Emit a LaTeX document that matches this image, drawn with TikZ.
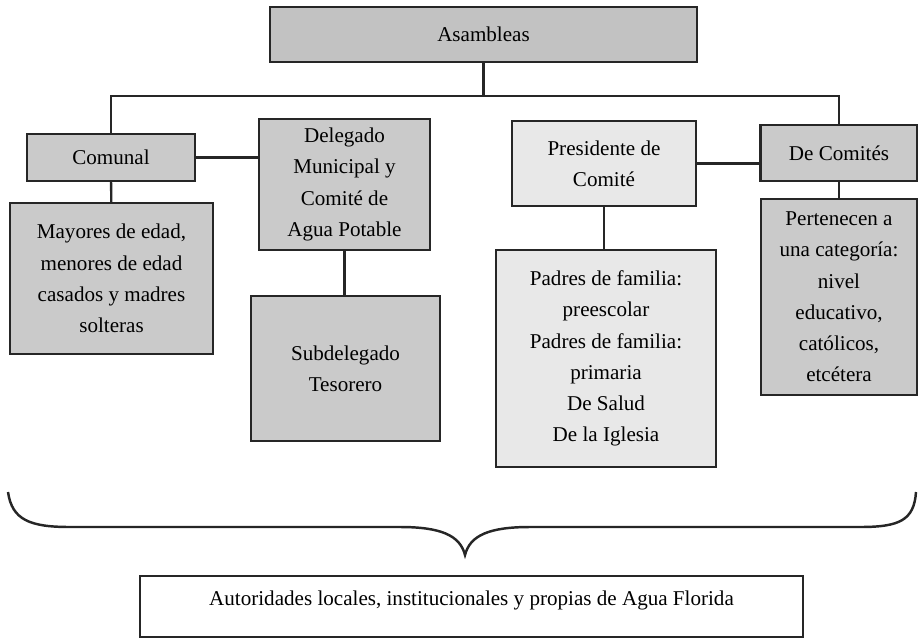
\documentclass[tikz,border=0pt]{standalone}
\usepackage{fontspec}
\setmainfont{Liberation Serif}
\definecolor{grisfuerte}{HTML}{C2C2C2}
\definecolor{gris}{HTML}{CACACA}
\definecolor{grisclaro}{HTML}{E8E8E8}
\tikzstyle{caja} = [rectangle, draw = black!85, line width = 1.3pt, fill = gris,
	align = center, inner sep = 0pt,
	font = \fontsize{12}{17.8}\selectfont]
\tikzstyle{linea} = [draw = black!85, line width = 1.3pt]

\begin{document}
\begin{tikzpicture}[x = 0.02cm, y = -0.02cm]

\useasboundingbox (0,0) rectangle (918,639);

\node (asam) [caja, fill = grisfuerte, minimum width = 8.54cm, minimum height = 1.1cm]
	at (483.5,34.5) {Asambleas};

\node (comunal) [caja, minimum width = 3.36cm, minimum height = 0.94cm]
	at (111,157.5) {Comunal};

\node (mayores) [caja, minimum width = 4.06cm, minimum height = 3.02cm]
	at (111.5,278.5)
	{Mayores de edad,\\ menores de edad\\ casados y madres\\ solteras};

\node (delegado) [caja, minimum width = 3.42cm, minimum height = 2.62cm]
	at (344.5,184.5)
	{Delegado\\ Municipal y\\ Comité de\\ Agua Potable};

\node (subdel) [caja, minimum width = 3.78cm, minimum height = 2.9cm]
	at (345.5,368.5) {Subdelegado\\ Tesorero};

\node (presid) [caja, fill = grisclaro, minimum width = 3.68cm, minimum height = 1.7cm]
	at (604,163.5) {Presidente de\\ Comité};

\node (padres) [caja, fill = grisclaro, minimum width = 4.4cm, minimum height = 4.34cm]
	at (606,358.5)
	{Padres de familia:\\ preescolar\\ Padres de familia:\\ primaria\\ De Salud\\ De la Iglesia};

\node (comites) [caja, minimum width = 3.14cm, minimum height = 1.12cm]
	at (839,153) {De Comités};

\node (pertenecen) [caja, minimum width = 3.12cm, minimum height = 3.92cm]
	at (839,297)
	{Pertenecen a\\ una categoría:\\ nivel\\ educativo,\\ católicos,\\ etcétera};

\node (autoridades) [caja, fill = white, minimum width = 13.26cm, minimum height = 1.22cm,
	text depth = 0.34cm]
	at (471.5,606.5)
	{Autoridades locales, institucionales y propias de Agua Florida};

\coordinate (barra) at (483.5,96);

\draw [linea] (asam.south) -- (barra);
\draw [linea] (comunal.north) |- (barra) -| (comites.north);
\draw [linea] (comunal) -- (mayores);
\draw [linea] (comunal.east) -- (delegado.west |- comunal.east);
\draw [linea] (delegado) -- (subdel.north -| delegado);
\draw [linea] (presid.east) -- (comites.west |- presid.east);
\draw [linea] (presid.south) -- (padres.north -| presid.south);
\draw [linea] (comites) -- (pertenecen);

\draw [linea, line width = 1.4pt] (8,492) .. controls (12,520) and (30,527) .. (70,527)
	-- (400,527) .. controls (440,527) and (460,535) .. (465,555)
	.. controls (470,535) and (490,527) .. (530,527)
	-- (860,527) .. controls (900,527) and (914,520) .. (916,492);

\end{tikzpicture}
\end{document}
